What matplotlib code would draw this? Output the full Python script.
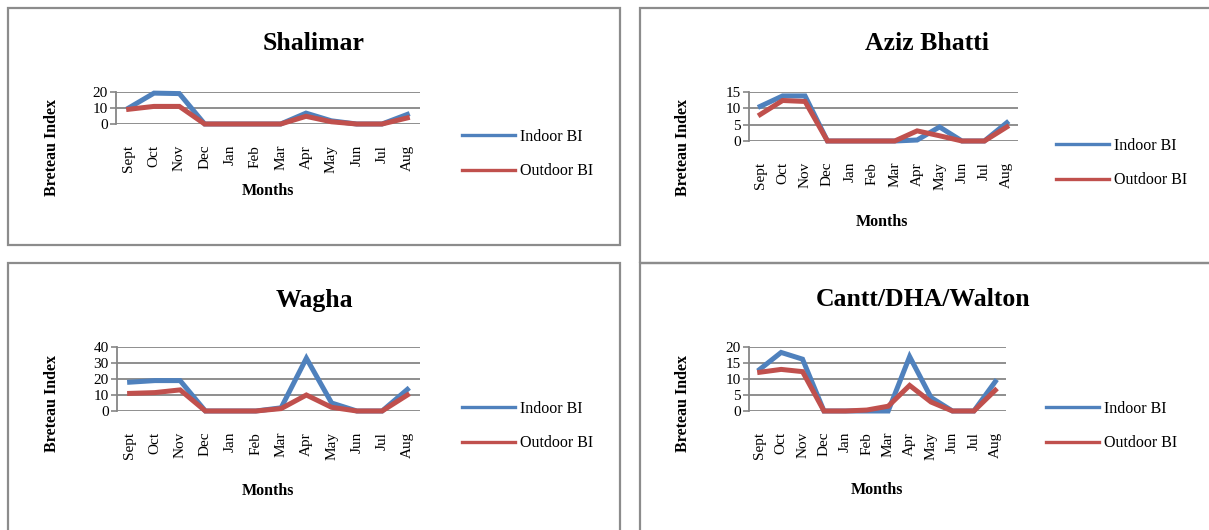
import numpy as np
import matplotlib
matplotlib.use('Agg')
import matplotlib.pyplot as plt
from matplotlib.patches import Rectangle
from matplotlib.lines import Line2D

plt.rcParams['font.family'] = 'Liberation Serif'

# Datos
meses = ['Sept', 'Oct', 'Nov', 'Dec', 'Jan', 'Feb', 'Mar', 'Apr', 'May', 'Jun', 'Jul', 'Aug']

shalimar_in = [10, 19.3, 19, 0, 0, 0, 0, 6.8, 2, 0, 0, 6]
shalimar_out = [9.2, 11, 11, 0, 0, 0, 0, 4.8, 1.4, 0, 0, 3.8]

aziz_in = [10.6, 13.8, 13.8, 0, 0, 0, 0, 0.3, 4.3, 0, 0, 5.6]
aziz_out = [8.1, 12.4, 12.1, 0, 0, 0, 0, 3.1, 1.6, 0, 0, 4.3]

wagha_in = [18, 19, 19, 0, 0, 0, 2, 33, 5, 0, 0, 13.5]
wagha_out = [11, 11.5, 13.2, 0, 0, 0, 1.5, 10, 2.3, 0, 0, 10]

cantt_in = [13, 18.3, 16.2, 0, 0, 0, 0, 17, 4.2, 0, 0, 9.2]
cantt_out = [12.1, 13, 12.3, 0, 0, 0.3, 1.5, 8, 2.8, 0, 0, 6.5]

W, H = 1209, 530
fig = plt.figure(figsize=(W / 100, H / 100), dpi=100)

def caja(l, t, r, b):
    return [l / W, 1 - b / H, (r - l) / W, (b - t) / H]

def fx(x):
    return x / W

def fy(y):
    return 1 - y / H

azul = '#4F81BD'
rojo = '#C0504D'
gris = '#868686'

# Marcos de cada panel
for (l, t, r, b) in [(8, 8, 620, 245), (640, 8, 1215, 263), (8, 263, 620, 540), (640, 263, 1215, 540)]:
    fig.patches.append(Rectangle((l / W, 1 - b / H), (r - l) / W, (b - t) / H,
                                 transform=fig.transFigure, fill=False,
                                 edgecolor='#8c8c8c', lw=1.6))

paneles = [
    ('Shalimar', shalimar_in, shalimar_out, 20, 10, (116, 92, 420, 124), (314, 44), (52, 147), (268, 191), (462, 154)),
    ('Aziz Bhatti', aziz_in, aziz_out, 15, 5, (749, 92, 1018, 141), (927, 44), (683, 147), (882, 222), (1056, 163)),
    ('Wagha', wagha_in, wagha_out, 40, 10, (117, 347, 420, 411), (314, 300), (52, 404), (268, 491), (462, 426)),
    ('Cantt/DHA/Walton', cantt_in, cantt_out, 20, 5, (749, 347, 1006, 411), (923, 300), (683, 404), (877, 490), (1046, 426)),
]

x = np.arange(len(meses))
for titulo, ind, outd, ymax, paso, box, tpos, ypos, xpos, lpos in paneles:
    ax = fig.add_axes(caja(*box))
    ax.plot(x, ind, color=azul, lw=3.6, clip_on=False, solid_joinstyle='miter', zorder=3)
    ax.plot(x, outd, color=rojo, lw=3.6, clip_on=False, solid_joinstyle='miter', zorder=4)
    ax.set_xlim(-0.5, len(meses) - 0.5)
    ax.set_ylim(0, ymax)
    ax.set_yticks(np.arange(0, ymax + 1, paso))
    ax.set_xticks(x)
    ax.set_xticklabels(meses, rotation=90, fontsize=11)
    ax.tick_params(axis='x', length=0, pad=15)
    ax.tick_params(axis='y', length=4, width=1.2, color=gris, pad=2, labelsize=11)
    ax.grid(axis='y', color=gris, lw=1.3)
    ax.set_axisbelow(True)
    for s in ['top', 'right', 'bottom']:
        ax.spines[s].set_visible(False)
    ax.spines['left'].set_color(gris)
    ax.spines['left'].set_linewidth(1.3)
    ax.set_facecolor('none')

    fig.text(fx(tpos[0]), fy(tpos[1]), titulo, ha='center', va='center',
             fontsize=18.5, fontweight='bold')
    ax.set_ylabel('Breteau Index', fontsize=11.5, fontweight='bold')
    ax.yaxis.set_label_coords(fx(ypos[0]), fy(ypos[1]), transform=fig.transFigure)
    ax.yaxis.label.set_va('center')
    ax.set_xlabel('Months', fontsize=11.5, fontweight='bold')
    ax.xaxis.set_label_coords(fx(xpos[0]), fy(xpos[1]), transform=fig.transFigure)
    ax.xaxis.label.set_va('center')

    handles = [Line2D([], [], color=azul, lw=2.4), Line2D([], [], color=rojo, lw=2.4)]
    ax.legend(handles, ['Indoor BI', 'Outdoor BI'], loc='center left',
              bbox_to_anchor=(fx(lpos[0]), fy(lpos[1])), bbox_transform=fig.transFigure,
              frameon=False, fontsize=11.5, handlelength=3.3, handletextpad=0.3,
              labelspacing=1.15, borderpad=0, borderaxespad=0)

fig.savefig('out.png', dpi=100)
